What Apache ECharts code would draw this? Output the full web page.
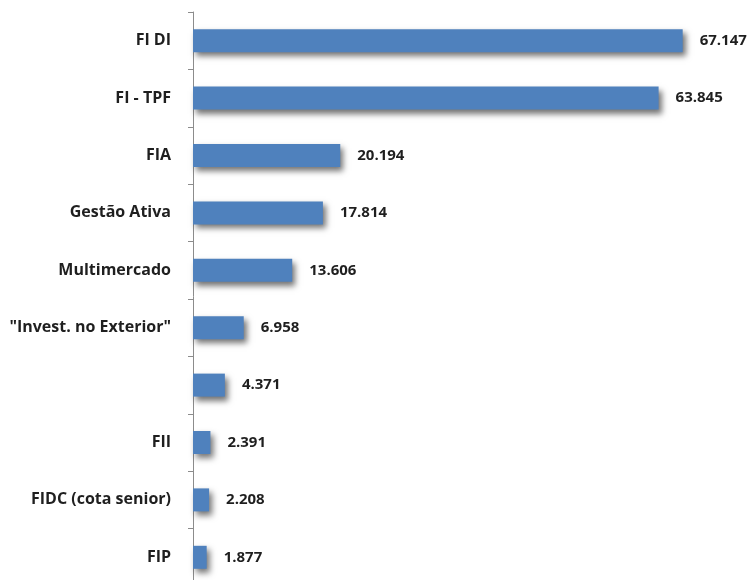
<!DOCTYPE html>
<html lang="pt">
<head>
    <meta charset="UTF-8">
    <title>Fundos</title>
    <script src="https://cdn.jsdelivr.net/npm/echarts@6/dist/echarts.min.js"></script>
    <style>
        html, body { margin: 0; padding: 0; background: #fff; }
        #chart1 { width: 756px; height: 580px; }
    </style>
</head>
<body>
<div id="chart1"></div>
<script type="text/javascript">
    // categorias, de cima para baixo
    var categorias = ['FI DI', 'FI - TPF', 'FIA', 'Gestão Ativa', 'Multimercado',
        '"Invest. no Exterior"', '', 'FII', 'FIDC (cota senior)', 'FIP'];
    var valores = [67.147, 63.845, 20.194, 17.814, 13.606, 6.958, 4.371, 2.391, 2.208, 1.877];

    var myChart1 = echarts.init(document.getElementById('chart1'));
    myChart1.setOption({
        animation: false,
        grid: {
            left: 193,
            top: 12,
            width: 510.5,
            height: 574,
            outerBoundsMode: 'none'
        },
        xAxis: {
            type: 'value',
            min: 0,
            max: 70,
            show: false
        },
        yAxis: {
            type: 'category',
            data: categorias,
            inverse: true,
            axisLine: { show: true, lineStyle: { color: '#8c8c8c', width: 1 } },
            axisTick: { show: true, length: 5, lineStyle: { color: '#8c8c8c' } },
            axisLabel: {
                margin: 22,
                color: '#1f1f1f',
                fontFamily: 'Open Sans',
                fontWeight: 'bold',
                fontSize: 16
            }
        },
        series: [{
            type: 'bar',
            data: valores,
            barWidth: 23,
            itemStyle: {
                color: '#4f81bd',
                shadowColor: 'rgba(0,0,0,0.55)',
                shadowBlur: 6,
                shadowOffsetX: 3,
                shadowOffsetY: 4
            },
            label: {
                show: true,
                position: 'right',
                distance: 17,
                color: '#1f1f1f',
                fontFamily: 'Open Sans',
                fontWeight: 'bold',
                fontSize: 15,
                formatter: function (p) {
                    return p.value.toFixed(3);
                }
            }
        }]
    });
</script>
</body>
</html>
